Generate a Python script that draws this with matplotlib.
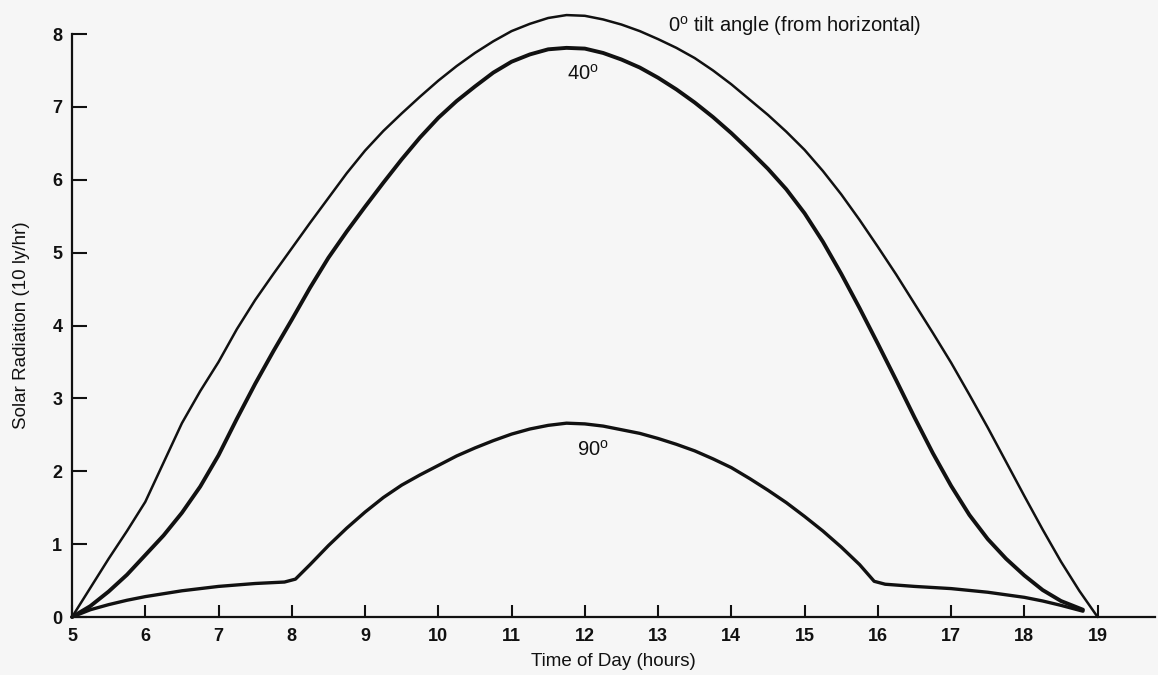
import matplotlib
matplotlib.use("Agg")
import matplotlib.pyplot as plt

plt.rcParams['font.family'] = ['Liberation Sans', 'DejaVu Sans']
plt.rcParams['mathtext.fontset'] = 'custom'
plt.rcParams['mathtext.rm'] = 'Liberation Sans'

# readings of each curve (hours, 10 ly/hr)
hours_0 = [5.0, 5.25, 5.5, 5.75, 6.0, 6.25, 6.5, 6.75, 7.0, 7.25, 7.5, 7.75, 8.0, 8.25,
           8.5, 8.75, 9.0, 9.25, 9.5, 9.75, 10.0, 10.25, 10.5, 10.75, 11.0, 11.25,
           11.5, 11.75, 12.0, 12.25, 12.5, 12.75, 13.0, 13.25, 13.5, 13.75, 14.0,
           14.25, 14.5, 14.75, 15.0, 15.25, 15.5, 15.75, 16.0, 16.25, 16.5, 16.75,
           17.0, 17.25, 17.5, 17.75, 18.0, 18.25, 18.5, 18.75, 19.0]
rad_0 = [0.0, 0.40, 0.80, 1.18, 1.58, 2.12, 2.66, 3.10, 3.50, 3.95, 4.35, 4.71, 5.06, 5.41,
         5.75, 6.09, 6.40, 6.67, 6.91, 7.14, 7.36, 7.56, 7.74, 7.90, 8.04, 8.14,
         8.22, 8.26, 8.25, 8.20, 8.13, 8.04, 7.93, 7.81, 7.67, 7.50, 7.31,
         7.10, 6.89, 6.66, 6.41, 6.12, 5.80, 5.45, 5.08, 4.70, 4.30, 3.90,
         3.49, 3.05, 2.60, 2.13, 1.66, 1.20, 0.76, 0.36, 0.0]

hours_40 = [5.0, 5.25, 5.5, 5.75, 6.0, 6.25, 6.5, 6.75, 7.0, 7.25, 7.5, 7.75, 8.0, 8.25,
            8.5, 8.75, 9.0, 9.25, 9.5, 9.75, 10.0, 10.25, 10.5, 10.75, 11.0, 11.25,
            11.5, 11.75, 12.0, 12.25, 12.5, 12.75, 13.0, 13.25, 13.5, 13.75, 14.0,
            14.25, 14.5, 14.75, 15.0, 15.25, 15.5, 15.75, 16.0, 16.25, 16.5, 16.75,
            17.0, 17.25, 17.5, 17.75, 18.0, 18.25, 18.5, 18.8]
rad_40 = [0.0, 0.15, 0.35, 0.58, 0.85, 1.12, 1.43, 1.79, 2.22, 2.72, 3.20, 3.65, 4.08, 4.52,
          4.93, 5.29, 5.63, 5.96, 6.28, 6.58, 6.85, 7.08, 7.28, 7.47, 7.62, 7.72,
          7.79, 7.81, 7.80, 7.74, 7.65, 7.54, 7.40, 7.24, 7.06, 6.86, 6.64,
          6.40, 6.15, 5.87, 5.54, 5.15, 4.71, 4.24, 3.75, 3.25, 2.74, 2.25,
          1.80, 1.40, 1.07, 0.80, 0.57, 0.37, 0.22, 0.10]

hours_90 = [5.0, 5.25, 5.5, 5.75, 6.0, 6.5, 7.0, 7.5, 7.9, 8.05, 8.25, 8.5, 8.75, 9.0,
            9.25, 9.5, 9.75, 10.0, 10.25, 10.5, 10.75, 11.0, 11.25, 11.5, 11.75, 12.0,
            12.25, 12.5, 12.75, 13.0, 13.25, 13.5, 13.75, 14.0, 14.25, 14.5, 14.75,
            15.0, 15.25, 15.5, 15.75, 15.95, 16.1, 16.5, 17.0, 17.5, 18.0, 18.25,
            18.5, 18.8]
rad_90 = [0.0, 0.10, 0.17, 0.23, 0.28, 0.36, 0.42, 0.46, 0.48, 0.52, 0.72, 0.98, 1.22, 1.44,
          1.64, 1.81, 1.95, 2.08, 2.21, 2.32, 2.42, 2.51, 2.58, 2.63, 2.66, 2.65,
          2.62, 2.57, 2.52, 2.45, 2.37, 2.28, 2.17, 2.05, 1.90, 1.74, 1.57,
          1.38, 1.18, 0.96, 0.72, 0.49, 0.45, 0.42, 0.39, 0.34, 0.27, 0.22,
          0.16, 0.08]

x_ticks = list(range(5, 20))
y_ticks = list(range(0, 9))

ink = '#111111'
paper = '#f6f6f6'

fig = plt.figure(figsize=(11.58, 6.75), dpi=100, facecolor=paper)
ax = fig.add_axes([0.0622, 0.0859, 0.935, 0.8637], facecolor=paper)

ax.plot(hours_0, rad_0, color=ink, lw=1.8, solid_capstyle='round',
        solid_joinstyle='round', clip_on=False)
ax.plot(hours_40, rad_40, color=ink, lw=2.8, solid_capstyle='round',
        solid_joinstyle='round', clip_on=False)
ax.plot(hours_90, rad_90, color=ink, lw=2.4, solid_capstyle='round',
        solid_joinstyle='round', clip_on=False)

ax.set_xlim(5, 19.78)
ax.set_ylim(0, 8.0)
ax.set_xticks(x_ticks)
ax.set_yticks(y_ticks)

for side in ('top', 'right'):
    ax.spines[side].set_visible(False)
for side in ('left', 'bottom'):
    ax.spines[side].set_linewidth(1.6)
    ax.spines[side].set_color(ink)

ax.tick_params(axis='x', direction='in', length=9, width=1.5, pad=8, colors=ink,
               labelsize=13)
ax.tick_params(axis='y', direction='in', length=11, width=1.5, pad=7, colors=ink,
               labelsize=13)
for lab in ax.get_xticklabels() + ax.get_yticklabels():
    lab.set_fontweight('bold')

ax.set_xlabel('Time of Day (hours)', fontsize=13.5, color=ink, labelpad=6)
ax.set_ylabel('Solar Radiation (10 ly/hr)', fontsize=13.5, color=ink, labelpad=16)

ax.text(13.13, 8.03, r'0$^{\mathrm{o}}$ tilt angle (from horizontal)', fontsize=14.5,
        color=ink, va='baseline', ha='left', clip_on=False)
ax.text(11.75, 7.37, r'40$^{\mathrm{o}}$', fontsize=14.5, color=ink, va='baseline', ha='left')
ax.text(11.89, 2.22, r'90$^{\mathrm{o}}$', fontsize=14.5, color=ink, va='baseline', ha='left')

fig.savefig('out.png', dpi=100, facecolor=paper)
